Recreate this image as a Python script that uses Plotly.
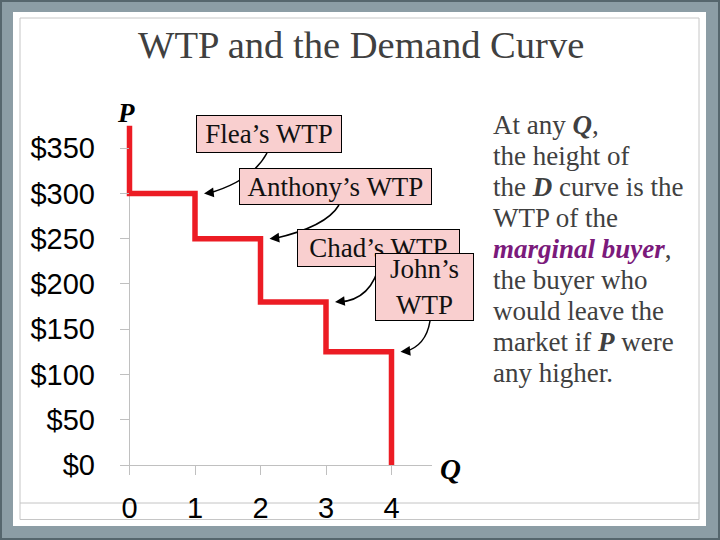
import plotly.graph_objects as go

# ---------------- data ----------------
buyers = ["Flea", "Anthony", "Chad", "John"]
wtp = [300, 250, 180, 125]          # willingness to pay of each buyer ($)
top_price = 375                     # demand curve starts above Flea's WTP
x_ticks = [0, 1, 2, 3, 4]
y_ticks = [0, 50, 100, 150, 200, 250, 300, 350]
title_text = "WTP and the Demand Curve"

# step (demand) curve built from the data
step_q = [0]
step_p = [top_price]
for i, p in enumerate(wtp):
    step_q += [i, i + 1]
    step_p += [p, p]
step_q.append(len(wtp))
step_p.append(0)

# ---------------- geometry helpers ----------------
W, H = 720, 540
PXQ = 65.5            # px per unit of Q
PXP = 339.4 / 375     # px per $
X0PX, Y0PX = 129.5, 465.0
XL, XR = 120.0, 432.0
YB, YT = 475.0, Y0PX - top_price * PXP


def fx(px):
    return px / W


def fy(py):
    return 1 - py / H


def q2px(q):
    return X0PX + q * PXQ


def p2px(p):
    return Y0PX - p * PXP


SERIF = "Liberation Serif, Times New Roman, serif"
SANS = "Liberation Sans, Arial, sans-serif"

fig = go.Figure()
fig.add_trace(go.Scatter(x=step_q, y=step_p, mode="lines",
                         line=dict(color="#EC1C24", width=5.5),
                         hoverinfo="skip", showlegend=False))

shapes = []
# slide background
shapes.append(dict(type="rect", xref="paper", yref="paper", x0=fx(13), x1=fx(706),
                   y0=fy(12), y1=fy(526), fillcolor="white", line=dict(width=0), layer="below"))
shapes.append(dict(type="line", xref="paper", yref="paper", x0=fx(20), x1=fx(699),
                   y0=fy(503), y1=fy(503), line=dict(color="#c4c4c4", width=1), layer="below"))

# curved connectors (drawn under boxes)
box = {
    "Flea": (196, 342, 115, 153),
    "Anthony": (239, 432, 168, 205),
    "Chad": (297, 460, 229, 267),
    "John": (375, 474, 253, 321),
}
starts = {"Flea": (267, 153), "Anthony": (339, 205), "Chad": (380, 262), "John": (430, 321)}
ctrls = {"Flea": (252, 181), "Anthony": (326, 227), "Chad": (372, 300), "John": (426, 346)}
tips = {}
for i, b in enumerate(buyers):
    tq = (i + 1) + 9.0 / PXQ
    tips[b] = (tq, wtp[i])
    ex, ey = q2px(tq) + 4, p2px(wtp[i])
    sx, sy = starts[b]
    cx, cy = ctrls[b]
    path = "M {} {} Q {} {} {} {}".format(fx(sx), fy(sy), fx(cx), fy(cy), fx(ex), fy(ey))
    shapes.append(dict(type="path", xref="paper", yref="paper", path=path,
                       line=dict(color="black", width=1.5), layer="above"))

# frame overlays (clip bottom of tick labels like the slide)
shapes.append(dict(type="rect", xref="paper", yref="paper", x0=fx(13), x1=fx(706),
                   y0=fy(519.5), y1=fy(526), fillcolor="white", line=dict(width=0), layer="above"))
shapes.append(dict(type="rect", xref="paper", yref="paper", x0=0, x1=1,
                   y0=fy(526), y1=0, fillcolor="#8C9DA5", line=dict(width=0), layer="above"))
shapes.append(dict(type="rect", xref="paper", yref="paper", x0=fx(20), x1=fx(699),
                   y0=fy(18), y1=fy(519.5), fillcolor="rgba(0,0,0,0)",
                   line=dict(color="#c6c6c6", width=1), layer="above"))
shapes.append(dict(type="rect", xref="paper", yref="paper", x0=0, x1=1, y0=0, y1=1,
                   fillcolor="rgba(0,0,0,0)", line=dict(color="#56666d", width=4), layer="above"))

annotations = []
# title
annotations.append(dict(text=title_text, xref="paper", yref="paper", x=fx(360.5), y=fy(45),
                        xanchor="center", yanchor="middle", showarrow=False,
                        font=dict(family=SERIF, size=38.6, color="#404040")))
# axis letters
annotations.append(dict(text="<b><i>P</i></b>", xref="paper", yref="paper", x=fx(126), y=fy(113),
                        xanchor="center", yanchor="middle", showarrow=False,
                        font=dict(family=SERIF, size=27, color="black")))
annotations.append(dict(text="<b><i>Q</i></b>", xref="paper", yref="paper", x=fx(450), y=fy(469),
                        xanchor="center", yanchor="middle", showarrow=False,
                        font=dict(family=SERIF, size=29, color="black")))

# WTP boxes
box_text = {"Flea": "Flea’s WTP", "Anthony": "Anthony’s WTP", "Chad": "Chad’s WTP",
            "John": "John’s<br>WTP"}
for b in buyers:
    x0, x1, y0, y1 = box[b]
    annotations.append(dict(text=box_text[b], xref="paper", yref="paper",
                            x=fx((x0 + x1) / 2), y=fy((y0 + y1) / 2),
                            xanchor="center", yanchor="middle", showarrow=False,
                            width=x1 - x0 - 2, height=y1 - y0 - 2, borderpad=0,
                            bgcolor="#F9CFCF", bordercolor="black", borderwidth=1,
                            font=dict(family=SERIF, size=27, color="#111111")))
# arrow heads
for b in buyers:
    tq, tp = tips[b]
    annotations.append(dict(text="", x=tq, y=tp, xref="x", yref="y", showarrow=True,
                            ax=9, ay=-1, arrowhead=2, arrowsize=1.3, arrowwidth=1.5,
                            arrowcolor="black", standoff=0))

# explanatory text
lines = [
    "At any <b><i>Q</i></b>,",
    "the height of",
    "the <b><i>D</i></b> curve is the",
    "WTP of the",
    "<b><i><span style='color:#7B1A7B'>marginal buyer</span></i></b>,",
    "the buyer who",
    "would leave the",
    "market if <b><i>P</i></b> were",
    "any higher.",
]
for i, ln in enumerate(lines):
    base = 135 + 31 * i
    annotations.append(dict(text=ln, xref="paper", yref="paper", x=fx(491), y=fy(base - 10),
                            xanchor="left", yanchor="middle", showarrow=False,
                            font=dict(family=SERIF, size=27, color="#404040")))

fig.update_layout(
    width=W, height=H, autosize=False,
    margin=dict(l=0, r=0, t=0, b=0, autoexpand=False),
    paper_bgcolor="#8C9DA5", plot_bgcolor="rgba(0,0,0,0)",
    showlegend=False,
    shapes=shapes, annotations=annotations,
    xaxis=dict(domain=[fx(XL), fx(XR)], automargin=False,
               range=[-(X0PX - XL) / PXQ, (XR - X0PX) / PXQ],
               showgrid=False, showline=False, zeroline=True,
               zerolinecolor="#c0c0c0", zerolinewidth=1,
               tickmode="array", tickvals=x_ticks, ticktext=[str(v) for v in x_ticks],
               ticks="inside", ticklen=10, tickcolor="#c0c0c0", tickwidth=1,
               ticklabelstandoff=13,
               tickfont=dict(family=SANS, size=29, color="black"), fixedrange=True),
    yaxis=dict(domain=[fy(YB), fy(YT)], automargin=False,
               range=[-(YB - Y0PX) / PXP, top_price],
               showgrid=False, showline=False, zeroline=True,
               zerolinecolor="#c0c0c0", zerolinewidth=1,
               tickmode="array", tickvals=y_ticks, ticktext=["$" + str(v) for v in y_ticks],
               ticks="inside", ticklen=9, tickcolor="#c0c0c0", tickwidth=1,
               ticklabelstandoff=24,
               tickfont=dict(family=SANS, size=29, color="black"), fixedrange=True),
)

fig.write_html("out.html", config={"displayModeBar": False},
               post_script="document.body.style.margin='0';document.body.style.overflow='hidden';")
